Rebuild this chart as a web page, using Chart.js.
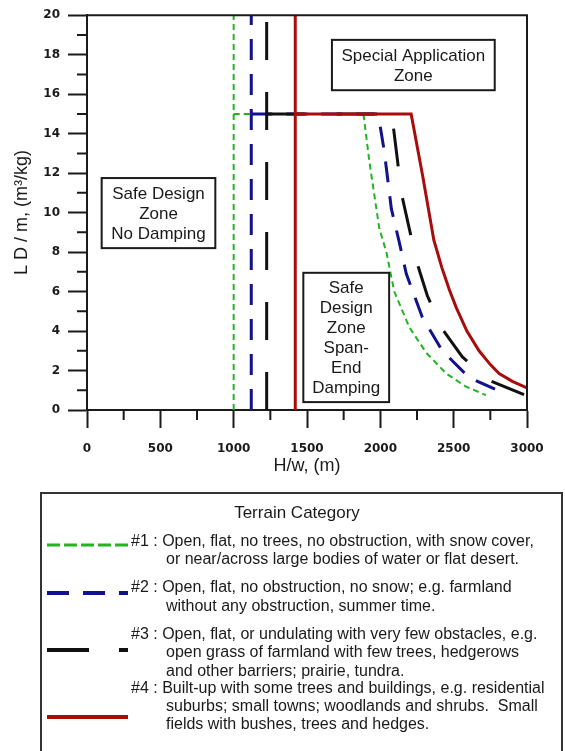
<!DOCTYPE html>
<html>
<head>
<meta charset="utf-8">
<script src="https://cdn.jsdelivr.net/npm/chart.js@4.4.1/dist/chart.umd.min.js"></script>
<style>
  html, body { margin: 0; padding: 0; background: #fff; }
  canvas { display: block; }
</style>
</head>
<body>
<canvas id="chart" width="565" height="751"></canvas>
<script>
const categories = ['#1', '#2', '#3', '#4'];
const limitX = [1000, 1120, 1225, 1420];

const curve1X = [1000, 1885, 1925, 1993, 2041, 2095, 2197, 2313, 2449, 2580, 2720];
const curve1Y = [15, 15, 12.6, 9.2, 8.0, 6.0, 4.2, 2.9, 1.85, 1.2, 0.75];
const curve2X = [1120, 1985, 2027, 2075, 2129, 2177, 2286, 2422, 2605, 2857];
const curve2Y = [15, 15, 13.1, 10.2, 8.5, 6.9, 4.7, 3.0, 1.65, 0.8];
const curve3X = [1225, 2078, 2116, 2143, 2197, 2252, 2320, 2422, 2558, 2741, 2980];
const curve3Y = [15, 15, 12.7, 11.0, 9.2, 7.4, 5.8, 4.1, 2.7, 1.5, 0.78];
const curve4X = [1420, 2210, 2290, 2365, 2420, 2470, 2517, 2590, 2673, 2750, 2810, 2900, 3000];
const curve4Y = [15, 15, 11.8, 8.6, 7.2, 6.1, 5.2, 4.0, 3.0, 2.3, 1.85, 1.45, 1.12];

const xTicks = [0, 500, 1000, 1500, 2000, 2500, 3000];
const yTicks = [0, 2, 4, 6, 8, 10, 12, 14, 16, 18, 20];

const zoneLabels = [
  ['Safe Design', 'Zone', 'No Damping'],
  ['Special Application', 'Zone'],
  ['Safe', 'Design', 'Zone', 'Span-', 'End', 'Damping']
];
const zoneX = [[100, 875], [1670, 2780], [1475, 2060]];
const zoneY = [[8.2, 11.75], [16.2, 18.75], [0.4, 6.95]];

const legendTitle = 'Terrain Category';
const legendText = [
  ['#1 : Open, flat, no trees, no obstruction, with snow cover,', 'or near/across large bodies of water or flat desert.'],
  ['#2 : Open, flat, no obstruction, no snow; e.g. farmland', 'without any obstruction, summer time.'],
  ['#3 : Open, flat, or undulating with very few obstacles, e.g.', 'open grass of farmland with few trees, hedgerows', 'and other barriers; prairie, tundra.'],
  ['#4 : Built-up with some trees and buildings, e.g. residential', 'suburbs; small towns; woodlands and shrubs.  Small', 'fields with bushes, trees and hedges.']
];

const colors = ['#22b422', '#12128e', '#111111', '#a80c0c'];
const dashes = [[6, 4], [21, 14], [38, 32], []];
const widths = [2, 3, 3, 3];
const legendDashes = [[13, 4], [22, 14], [42, 30], []];

const curvesX = [curve1X, curve2X, curve3X, curve4X];
const curvesY = [curve1Y, curve2Y, curve3Y, curve4Y];

const datasets = [];
categories.forEach((c, i) => {
  const style = {
    borderColor: colors[i],
    borderWidth: widths[i],
    borderDash: dashes[i],
    showLine: true,
    pointRadius: 0,
    fill: false,
    tension: 0,
    order: categories.length - i   // later terrains drawn on top
  };
  datasets.push(Object.assign({ label: c + ' limit', data: [{ x: limitX[i], y: 0 }, { x: limitX[i], y: 20 }] }, style));
  datasets.push(Object.assign({ label: c, data: curvesX[i].map((v, k) => ({ x: v, y: curvesY[i][k] })) }, style));
});

const ink = '#1a1a1a';
const sans = '"Liberation Sans", Arial, sans-serif';

const extras = {
  id: 'extras',
  afterDraw(chart) {
    const { ctx, chartArea: a, scales: { x, y } } = chart;
    ctx.save();
    ctx.strokeStyle = ink;
    ctx.lineWidth = 2;
    ctx.setLineDash([]);

    // frame and minor ticks
    ctx.beginPath();
    ctx.moveTo(a.left, a.top);
    ctx.lineTo(a.right, a.top);
    ctx.lineTo(a.right, a.bottom);
    for (let v = 1; v < 20; v += 2) {
      const py = y.getPixelForValue(v);
      ctx.moveTo(a.left - 10, py);
      ctx.lineTo(a.left, py);
    }
    for (let v = 250; v < 3000; v += 500) {
      const px = x.getPixelForValue(v);
      ctx.moveTo(px, a.bottom);
      ctx.lineTo(px, a.bottom + 10);
    }
    ctx.stroke();

    // zone boxes
    ctx.font = '17px ' + sans;
    ctx.textAlign = 'center';
    ctx.textBaseline = 'middle';
    zoneLabels.forEach((lines, i) => {
      const x0 = x.getPixelForValue(zoneX[i][0]);
      const x1 = x.getPixelForValue(zoneX[i][1]);
      const y0 = y.getPixelForValue(zoneY[i][1]);
      const y1 = y.getPixelForValue(zoneY[i][0]);
      ctx.fillStyle = '#fff';
      ctx.fillRect(x0, y0, x1 - x0, y1 - y0);
      ctx.strokeRect(x0, y0, x1 - x0, y1 - y0);
      ctx.fillStyle = ink;
      const cy = (y0 + y1) / 2 + 1;
      lines.forEach((t, k) => {
        ctx.fillText(t, (x0 + x1) / 2, cy + (k - (lines.length - 1) / 2) * 20);
      });
    });

    // legend box
    ctx.strokeStyle = '#333';
    ctx.strokeRect(41, 493, 521, 300);
    ctx.fillStyle = ink;
    ctx.font = '17px ' + sans;
    ctx.fillText(legendTitle, 297, 513);
    ctx.font = '16px ' + sans;
    ctx.textAlign = 'left';
    const rowY = [[542, 560], [588, 607], [635, 653, 672], [689, 707, 725]];
    const sampleY = [545, 593, 650, 717];
    legendText.forEach((lines, i) => {
      lines.forEach((t, k) => ctx.fillText(t, k === 0 ? 131 : 166, rowY[i][k]));
      ctx.beginPath();
      ctx.strokeStyle = colors[i];
      ctx.lineWidth = i === 0 ? 3 : 4;
      ctx.setLineDash(legendDashes[i]);
      ctx.moveTo(47, sampleY[i]);
      ctx.lineTo(128, sampleY[i]);
      ctx.stroke();
    });
    ctx.restore();
  }
};

new Chart(document.getElementById('chart'), {
  type: 'scatter',
  data: { datasets: datasets },
  options: {
    responsive: false,
    animation: false,
    layout: { padding: { left: 0, top: 12, right: 38, bottom: 271 } },
    plugins: { legend: { display: false }, tooltip: { enabled: false } },
    scales: {
      x: {
        min: 0, max: 3000,
        afterFit: s => { s.height = 70; },
        afterBuildTicks: s => { s.ticks = xTicks.map(v => ({ value: v })); },
        grid: { drawOnChartArea: false, tickLength: 18, tickWidth: 2, tickColor: ink },
        border: { color: ink, width: 2 },
        ticks: { color: ink, padding: 14, callback: v => String(v), font: { family: 'DejaVu Sans', weight: 'bold', size: 12 } },
        title: { display: true, text: 'H/w, (m)', color: ink, padding: { top: 0, bottom: 3 }, font: { family: sans, size: 18 } }
      },
      y: {
        min: 0, max: 20,
        afterFit: s => { s.width = 87; },
        afterBuildTicks: s => { s.ticks = yTicks.map(v => ({ value: v })); },
        grid: { drawOnChartArea: false, tickLength: 19, tickWidth: 2, tickColor: ink },
        border: { color: ink, width: 2 },
        ticks: { color: ink, padding: 8, callback: v => String(v), font: { family: 'DejaVu Sans', weight: 'bold', size: 12 } },
        title: { display: true, text: 'L D / m, (m³/kg)', color: ink, padding: { top: 11, bottom: 0 }, font: { family: sans, size: 18 } }
      }
    }
  },
  plugins: [extras]
});
</script>
</body>
</html>
